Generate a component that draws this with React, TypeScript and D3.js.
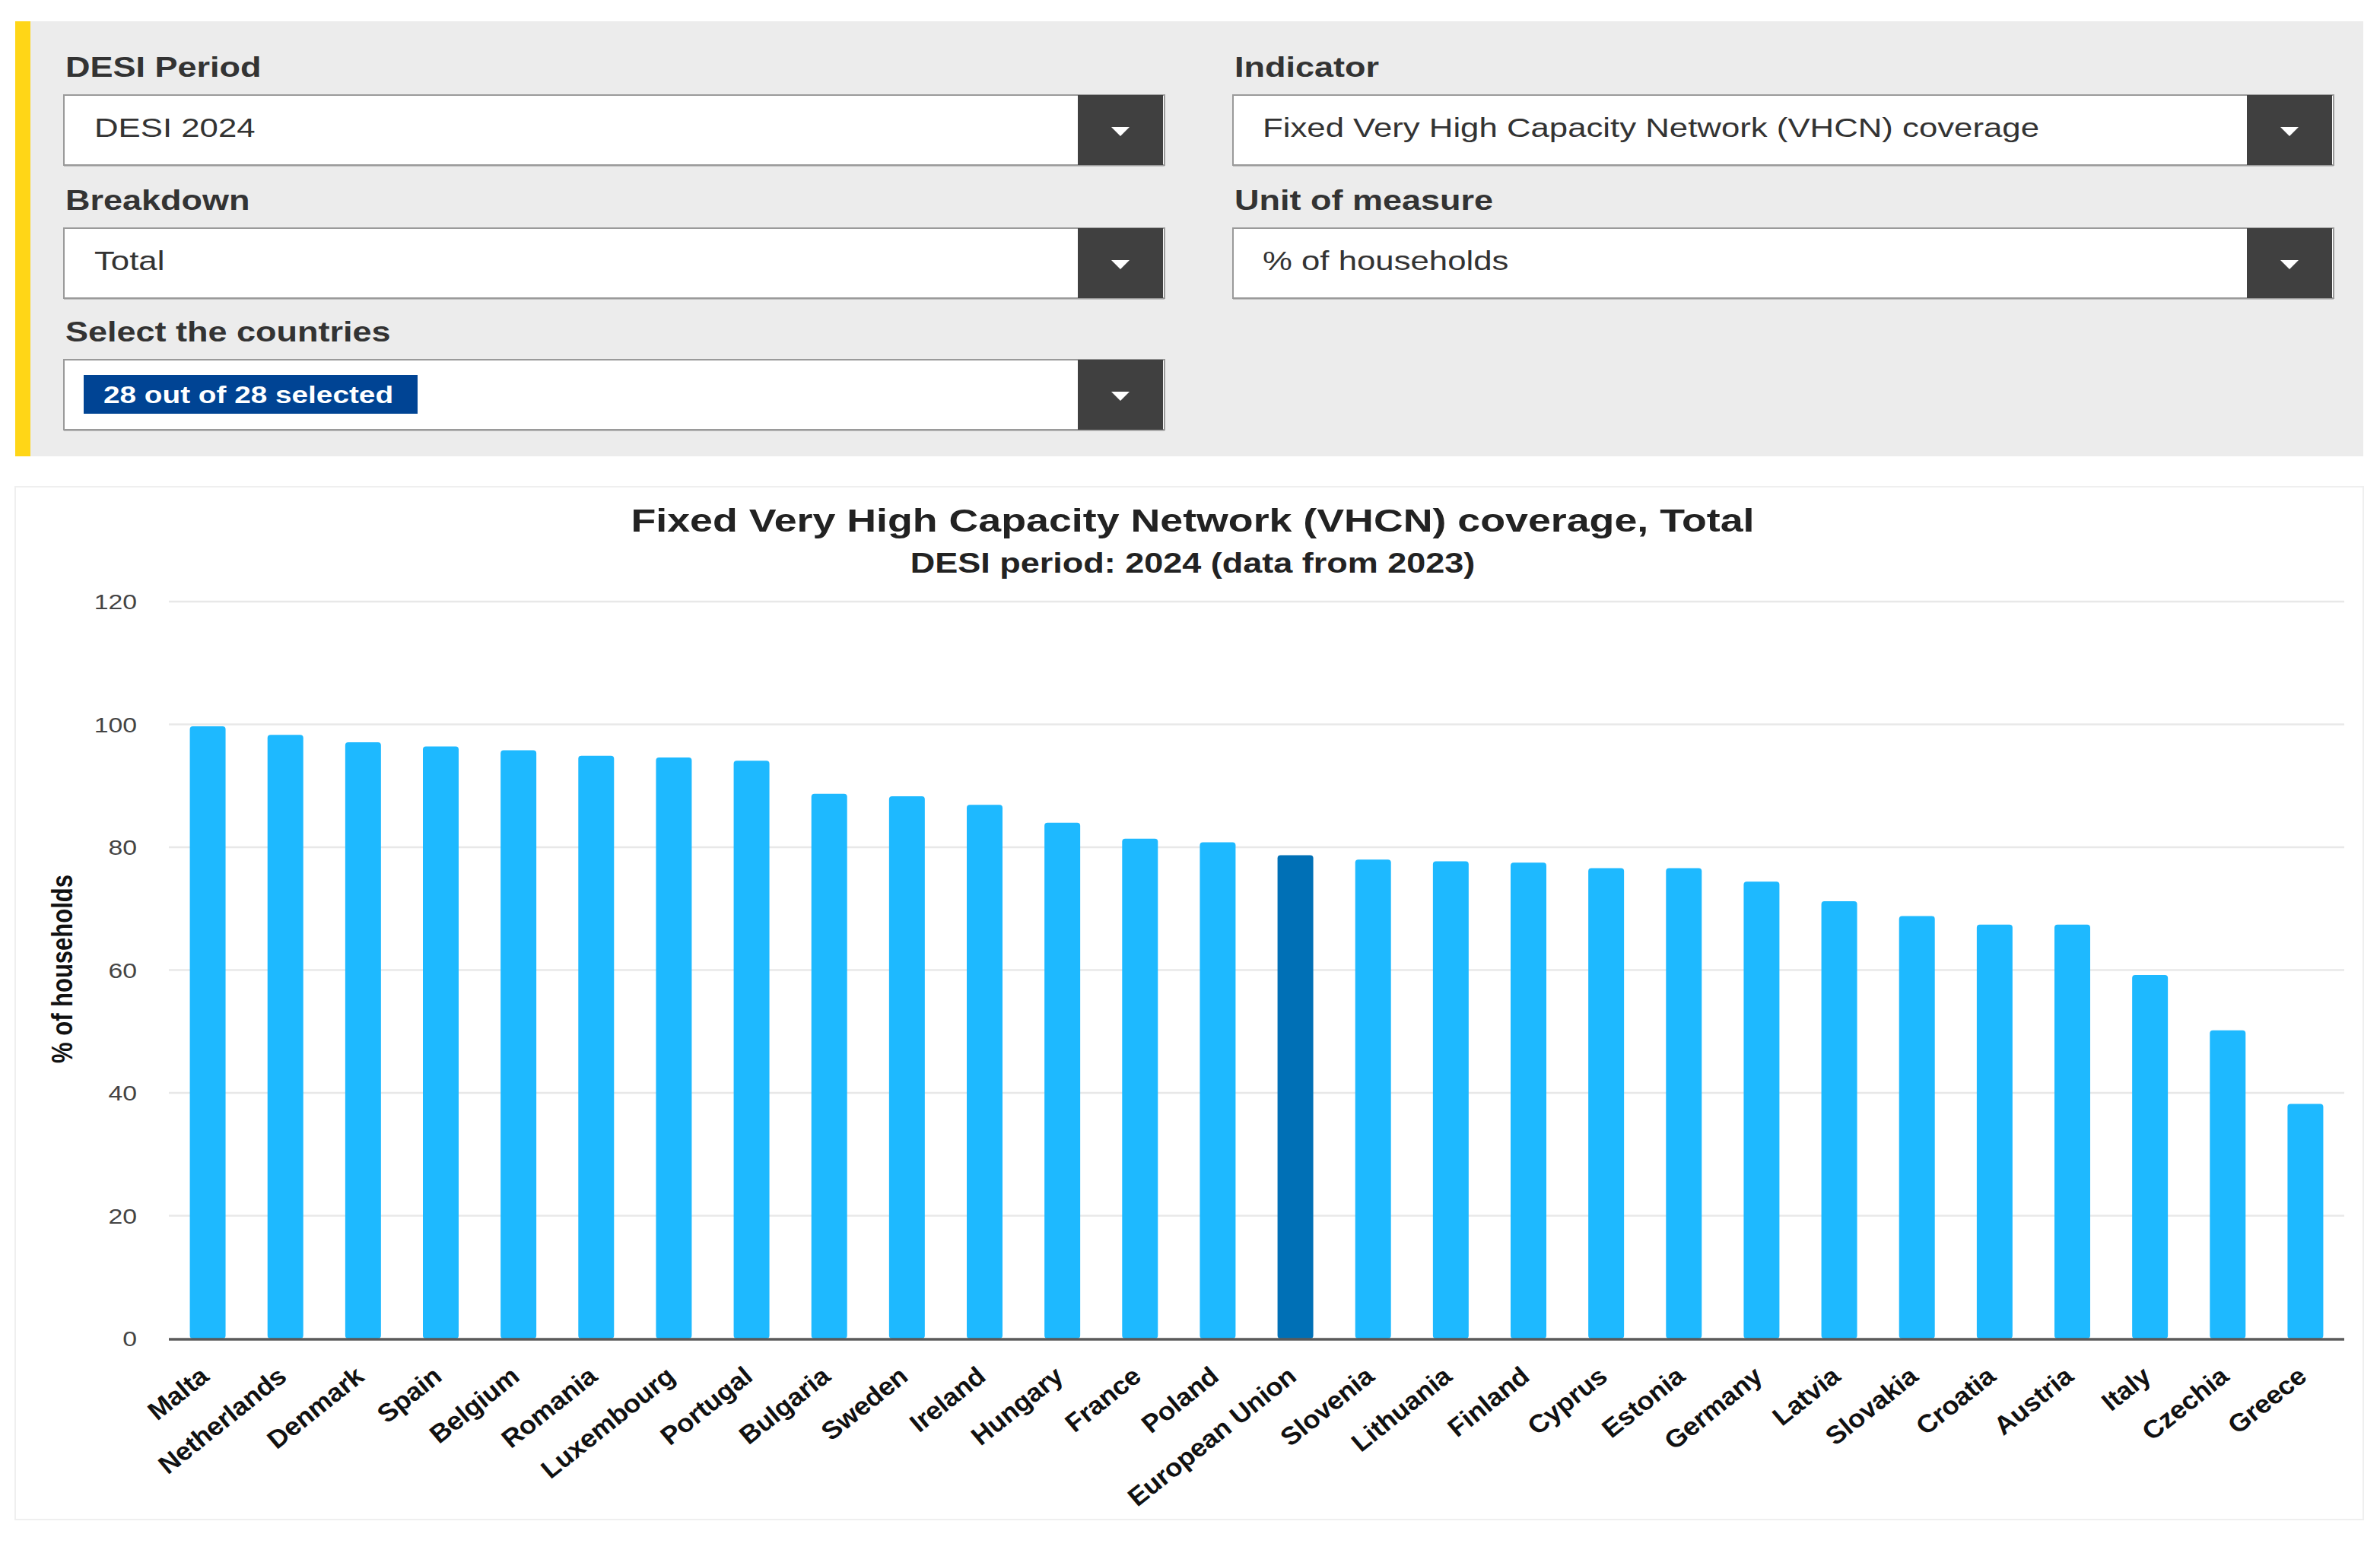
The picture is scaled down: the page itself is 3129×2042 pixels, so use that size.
import * as d3 from 'd3';
import React, {useEffect, useRef} from 'react';

// chart values
const countries = ['Malta', 'Netherlands', 'Denmark', 'Spain', 'Belgium', 'Romania', 'Luxembourg', 'Portugal',
    'Bulgaria', 'Sweden', 'Ireland', 'Hungary', 'France', 'Poland', 'European Union', 'Slovenia', 'Lithuania',
    'Finland', 'Cyprus', 'Estonia', 'Germany', 'Latvia', 'Slovakia', 'Croatia', 'Austria', 'Italy', 'Czechia', 'Greece'];
const values = [99.7, 98.3, 97.1, 96.4, 95.8, 94.9, 94.6, 94.1, 88.7, 88.3, 86.9, 84.0, 81.4, 80.8, 78.7, 78.0,
    77.7, 77.5, 76.6, 76.6, 74.4, 71.2, 68.8, 67.4, 67.4, 59.2, 50.2, 38.2];
const yTicks = [0, 20, 40, 60, 80, 100, 120];
const highlight = 'European Union';

const title = 'Fixed Very High Capacity Network (VHCN) coverage, Total';
const subtitle = 'DESI period: 2024 (data from 2023)';
const yTitle = '% of households';

// filter panel
const leftLabels = ['DESI Period', 'Breakdown', 'Select the countries'];
const leftValues = ['DESI 2024', 'Total', ''];
const rightLabels = ['Indicator', 'Unit of measure'];
const rightValues = ['Fixed Very High Capacity Network (VHCN) coverage', '% of households'];
const chipText = '28 out of 28 selected';

const W = 3129, H = 2042;
const FONT = '"Liberation Sans", Arial, sans-serif';
const SX = 1.25; // the screenshot is stretched horizontally

function App() {
    const ref = useRef(null);

    useEffect(() => {
        const svg = d3.select(ref.current);
        svg.selectAll('*').remove();

        const txt = (g, x, y, s, opts = {}) => {
            const t = g.append('text')
                .attr('transform', `translate(${x},${y}) scale(${SX},1)${opts.rotate ? ` rotate(${opts.rotate})` : ''}`)
                .attr('font-family', FONT)
                .attr('font-size', opts.size || 36)
                .attr('font-weight', opts.weight || 'normal')
                .attr('font-style', opts.style || 'normal')
                .attr('fill', opts.fill || '#333')
                .attr('text-anchor', opts.anchor || 'start')
                .text(s);
            return t;
        };

        // ---- filter panel
        const panel = svg.append('g');
        panel.append('rect').attr('x', 20).attr('y', 28).attr('width', 3087).attr('height', 572).attr('fill', '#ececec');
        panel.append('rect').attr('x', 20).attr('y', 28).attr('width', 20).attr('height', 572).attr('fill', '#ffd617');

        const rowY = [125, 300, 473];
        const boxH = 92;
        const drawBox = (x0, x1, y) => {
            panel.append('rect').attr('x', x0).attr('y', y + 2).attr('width', x1 - x0).attr('height', boxH)
                .attr('fill', '#bdbdbd');
            panel.append('rect').attr('x', x0).attr('y', y).attr('width', x1 - x0).attr('height', boxH)
                .attr('fill', '#fff').attr('stroke', '#9a9a9a').attr('stroke-width', 2);
            panel.append('rect').attr('x', x1 - 114).attr('y', y).attr('width', 112).attr('height', boxH)
                .attr('fill', '#404040');
            const cx = x1 - 58, cy = y + boxH / 2 + 2;
            panel.append('path')
                .attr('d', `M${cx - 12},${cy - 6}L${cx + 12},${cy - 6}L${cx},${cy + 6}Z`)
                .attr('fill', '#fff');
        };

        leftLabels.forEach((l, i) => {
            txt(panel, 86, rowY[i] - 24, l, {weight: 'bold', size: 36});
            drawBox(84, 1531, rowY[i]);
            if (leftValues[i]) txt(panel, 124, rowY[i] + boxH / 2 + 9, leftValues[i], {size: 35});
        });
        rightLabels.forEach((l, i) => {
            txt(panel, 1623, rowY[i] - 24, l, {weight: 'bold', size: 36});
            drawBox(1621, 3068, rowY[i]);
            txt(panel, 1660, rowY[i] + boxH / 2 + 9, rightValues[i], {size: 35});
        });
        // countries chip
        panel.append('rect').attr('x', 110).attr('y', 493).attr('width', 439).attr('height', 51).attr('fill', '#004494');
        txt(panel, 136, 530, chipText, {weight: 'bold', size: 31, fill: '#fff'});

        // ---- chart panel
        const chart = svg.append('g');
        chart.append('rect').attr('x', 20).attr('y', 640).attr('width', 3087).attr('height', 1358)
            .attr('fill', '#fff').attr('stroke', '#efefef').attr('stroke-width', 2);

        txt(chart, 1568, 699, title, {weight: 'bold', size: 43, anchor: 'middle', fill: '#222'});
        txt(chart, 1568, 753, subtitle, {weight: 'bold', size: 36, anchor: 'middle', fill: '#222'});

        const x = d3.scaleBand().domain(countries).range([222, 3082]).paddingInner(0.54).paddingOuter(0.27);
        const y = d3.scaleLinear().domain([0, 120]).range([1760, 791]);

        // gridlines
        chart.append('g').selectAll('line')
            .data(yTicks.filter((t) => t > 0))
            .enter()
            .append('line')
            .attr('x1', 222).attr('x2', 3082)
            .attr('y1', (d) => y(d)).attr('y2', (d) => y(d))
            .attr('stroke', '#e8e8e8').attr('stroke-width', 2.5);

        // y tick labels
        yTicks.forEach((t) => {
            txt(chart, 180, y(t) + 10, String(t), {size: 27, anchor: 'end', fill: '#444'});
        });

        // bars
        chart.append('g').selectAll('rect')
            .data(countries)
            .enter()
            .append('rect')
            .attr('x', (d) => x(d))
            .attr('y', (d, i) => y(values[i]))
            .attr('width', x.bandwidth())
            .attr('height', (d, i) => y(0) - y(values[i]))
            .attr('rx', 4)
            .attr('fill', (d) => d === highlight ? '#0070b6' : '#1eb9ff');

        // x axis line
        chart.append('line')
            .attr('x1', 222).attr('x2', 3082)
            .attr('y1', y(0) + 1).attr('y2', y(0) + 1)
            .attr('stroke', '#5a5a5a').attr('stroke-width', 3.5);

        // x labels
        countries.forEach((c) => {
            txt(chart, x(c) + x.bandwidth() / 2 + 5, y(0) + 52, c,
                {size: 31, weight: 'bold', style: 'italic', anchor: 'end', rotate: -45, fill: '#111'});
        });

        // y axis title
        txt(chart, 95, 1274, yTitle, {size: 31, weight: 'bold', anchor: 'middle', rotate: -90, fill: '#111'});
    }, []);

    return (
        <svg ref={ref} width={W} height={H}
            style={{position: 'absolute', left: 0, top: 0, display: 'block', background: '#fff'}} />
    );
}

export default App;
